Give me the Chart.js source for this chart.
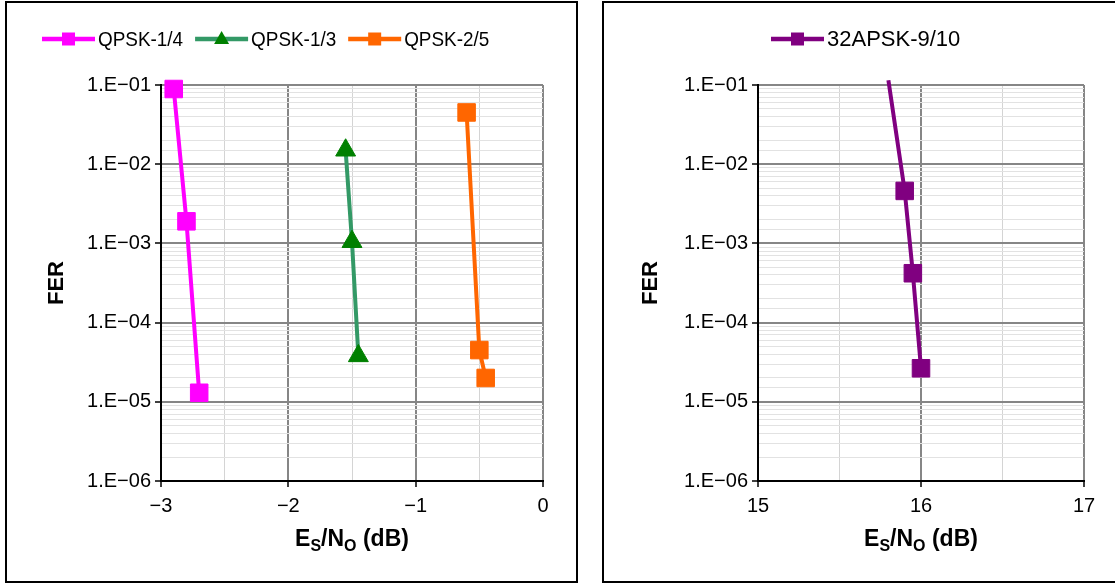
<!DOCTYPE html>
<html>
<head>
<meta charset="utf-8">
<script src="https://cdn.jsdelivr.net/npm/chart.js@4.4.0/dist/chart.umd.min.js"></script>
<style>
  body { margin: 0; background: #fff; width: 1115px; height: 583px; overflow: hidden; position: relative; }
  .panel { position: absolute; border: 2px solid #000; box-sizing: border-box; background: #fff; }
  canvas { position: absolute; }
</style>
</head>
<body>
<div class="panel" style="left:5px;top:1px;width:573px;height:582px"></div>
<div class="panel" style="left:602px;top:1px;width:540px;height:582px"></div>
<canvas id="leftChart" width="567" height="576" style="left:8px;top:4px"></canvas>
<canvas id="rightChart" width="510" height="576" style="left:605px;top:4px"></canvas>
<script>
const FONT = '"Liberation Sans", Arial, sans-serif';

// data (Es/No in dB, FER)
const qpsk14X = [-2.9, -2.8, -2.7];
const qpsk14Y = [0.089, 1.9e-3, 1.3e-5];
const qpsk13X = [-1.55, -1.5, -1.45];
const qpsk13Y = [0.015, 1.05e-3, 3.8e-5];
const qpsk25X = [-0.6, -0.5, -0.45];
const qpsk25Y = [0.045, 4.5e-5, 2.0e-5];
const apsk32X = [15.8, 15.9, 15.95, 16.0];
const apsk32Y = [0.115, 4.6e-3, 4.2e-4, 2.65e-5];

const yTicksMin = 1e-6;
const yTicksMax = 1e-1;

function toPoints(xs, ys) {
    return xs.map((x, i) => ({ x: x, y: ys[i] }));
}

function isDecade(v) {
    const e = Math.log10(v);
    return Math.abs(e - Math.round(e)) < 1e-6;
}

function makeScales(xMin, xMax) {
    return {
        x: {
            type: 'linear',
            min: xMin,
            max: xMax,
            afterFit: s => { s.height = 99; },
            border: { color: '#000', width: 2 },
            grid: {
                color: c => Number.isInteger(c.tick.value) ? '#868686' : '#d4d4d4',
                lineWidth: c => Number.isInteger(c.tick.value) ? 2 : 1,
                tickColor: c => Number.isInteger(c.tick.value) ? '#000' : 'rgba(0,0,0,0)',
                tickLength: 6,
                tickWidth: 1.5
            },
            ticks: {
                stepSize: 0.5,
                autoSkip: false,
                maxRotation: 0,
                padding: 7,
                color: '#000',
                font: { family: FONT, size: 20 },
                callback: v => Number.isInteger(v) ? String(v).replace('-', '\u2212') : ''
            }
        },
        y: {
            type: 'logarithmic',
            min: yTicksMin,
            max: yTicksMax,
            afterFit: s => { s.width = 153; },
            border: { color: '#000', width: 2 },
            grid: {
                color: c => isDecade(c.tick.value) ? '#868686' : '#e2e2e2',
                lineWidth: c => isDecade(c.tick.value) ? 2 : 1,
                tickColor: c => isDecade(c.tick.value) ? '#000' : 'rgba(0,0,0,0)',
                tickLength: 6,
                tickWidth: 1.5
            },
            ticks: {
                autoSkip: false,
                padding: 4,
                color: '#000',
                font: { family: FONT, size: 20 },
                callback: v => isDecade(v)
                    ? '1.E\u2212' + String(-Math.round(Math.log10(v))).padStart(2, '0')
                    : ''
            }
        }
    };
}

// legend with line sample + marker, and the axis titles with subscripts
const decorPlugin = {
    id: 'decor',
    afterDraw(chart) {
        const o = chart.options.plugins.decor;
        const ctx = chart.ctx;
        const area = chart.chartArea;
        ctx.save();

        // legend
        ctx.font = o.legendSize + 'px ' + FONT;
        ctx.textBaseline = 'middle';
        ctx.fillStyle = '#000';
        let x = o.legendX;
        const y = o.legendY;
        chart.data.datasets.forEach(ds => {
            ctx.strokeStyle = ds.borderColor;
            ctx.lineWidth = 4.5;
            ctx.beginPath();
            ctx.moveTo(x, y);
            ctx.lineTo(x + 53, y);
            ctx.stroke();
            const mx = x + 26.5;
            ctx.fillStyle = ds.legendMarker;
            ctx.beginPath();
            if (ds.pointStyle === 'triangle') {
                ctx.moveTo(mx, y - 8);
                ctx.lineTo(mx + 7.5, y + 5);
                ctx.lineTo(mx - 7.5, y + 5);
                ctx.closePath();
            } else {
                ctx.rect(mx - 6.5, y - 6.5, 13, 13);
            }
            ctx.fill();
            ctx.fillStyle = '#000';
            ctx.textAlign = 'left';
            // the reference legend text is a little condensed
            ctx.save();
            ctx.translate(x + 56, y + 1);
            ctx.scale(o.legendStretch, 1);
            ctx.fillText(ds.label, 0, 0);
            ctx.restore();
            x += 56 + ctx.measureText(ds.label).width * o.legendStretch + 12;
        });

        // y title
        ctx.font = 'bold 22px ' + FONT;
        ctx.translate(o.yTitleX, (area.top + area.bottom) / 2);
        ctx.rotate(-Math.PI / 2);
        ctx.textAlign = 'center';
        ctx.fillText('FER', 0, 0);
        ctx.setTransform(1, 0, 0, 1, 0, 0);

        // x title: E_S/N_O (dB)
        const parts = [['E', 0], ['S', 1], ['/N', 0], ['O', 1], [' (dB)', 0]];
        const bigFont = 'bold 23px ' + FONT;
        const subFont = 'bold 16px ' + FONT;
        let total = 0;
        parts.forEach(p => { ctx.font = p[1] ? subFont : bigFont; total += ctx.measureText(p[0]).width; });
        let tx = (area.left + area.right) / 2 - total / 2;
        ctx.textAlign = 'left';
        ctx.textBaseline = 'alphabetic';
        parts.forEach(p => {
            ctx.font = p[1] ? subFont : bigFont;
            ctx.fillText(p[0], tx, o.xTitleY + (p[1] ? 5 : 0));
            tx += ctx.measureText(p[0]).width;
        });
        ctx.restore();
    }
};

function makeChart(id, datasets, xMin, xMax, decor, padRight) {
    return new Chart(document.getElementById(id), {
        type: 'line',
        data: { datasets: datasets },
        options: {
            responsive: false,
            animation: false,
            layout: { padding: { top: 81, right: padRight, left: 0, bottom: 0 } },
            scales: makeScales(xMin, xMax),
            plugins: { legend: { display: false }, tooltip: { enabled: false }, decor: decor }
        },
        plugins: [decorPlugin]
    });
}

function series(label, xs, ys, line, marker, style, radius) {
    return {
        label: label,
        data: toPoints(xs, ys),
        borderColor: line,
        borderWidth: 4,
        backgroundColor: marker,
        pointBackgroundColor: marker,
        pointBorderColor: marker,
        pointBorderWidth: 1,
        pointStyle: style,
        pointRadius: radius,
        legendMarker: marker,
        clip: false,
        tension: 0
    };
}

makeChart('leftChart', [
    series('QPSK-1/4', qpsk14X, qpsk14Y, '#ff00ff', '#ff00ff', 'rect', 12.4),
    series('QPSK-1/3', qpsk13X, qpsk13Y, '#339966', '#008000', 'triangle', 11.5),
    series('QPSK-2/5', qpsk25X, qpsk25Y, '#ff6600', '#ff6600', 'rect', 12.4)
], -3, 0, { legendX: 34, legendY: 35, legendSize: 21, legendStretch: 0.9, yTitleX: 49, xTitleY: 542 }, 32);

makeChart('rightChart', [
    series('32APSK-9/10', apsk32X, apsk32Y, '#800080', '#800080', 'rect', [0, 12.4, 12.4, 12.4])
], 15, 17, { legendX: 166, legendY: 35, legendSize: 22, legendStretch: 1, yTitleX: 46, xTitleY: 542 }, 31);
</script>
</body>
</html>
